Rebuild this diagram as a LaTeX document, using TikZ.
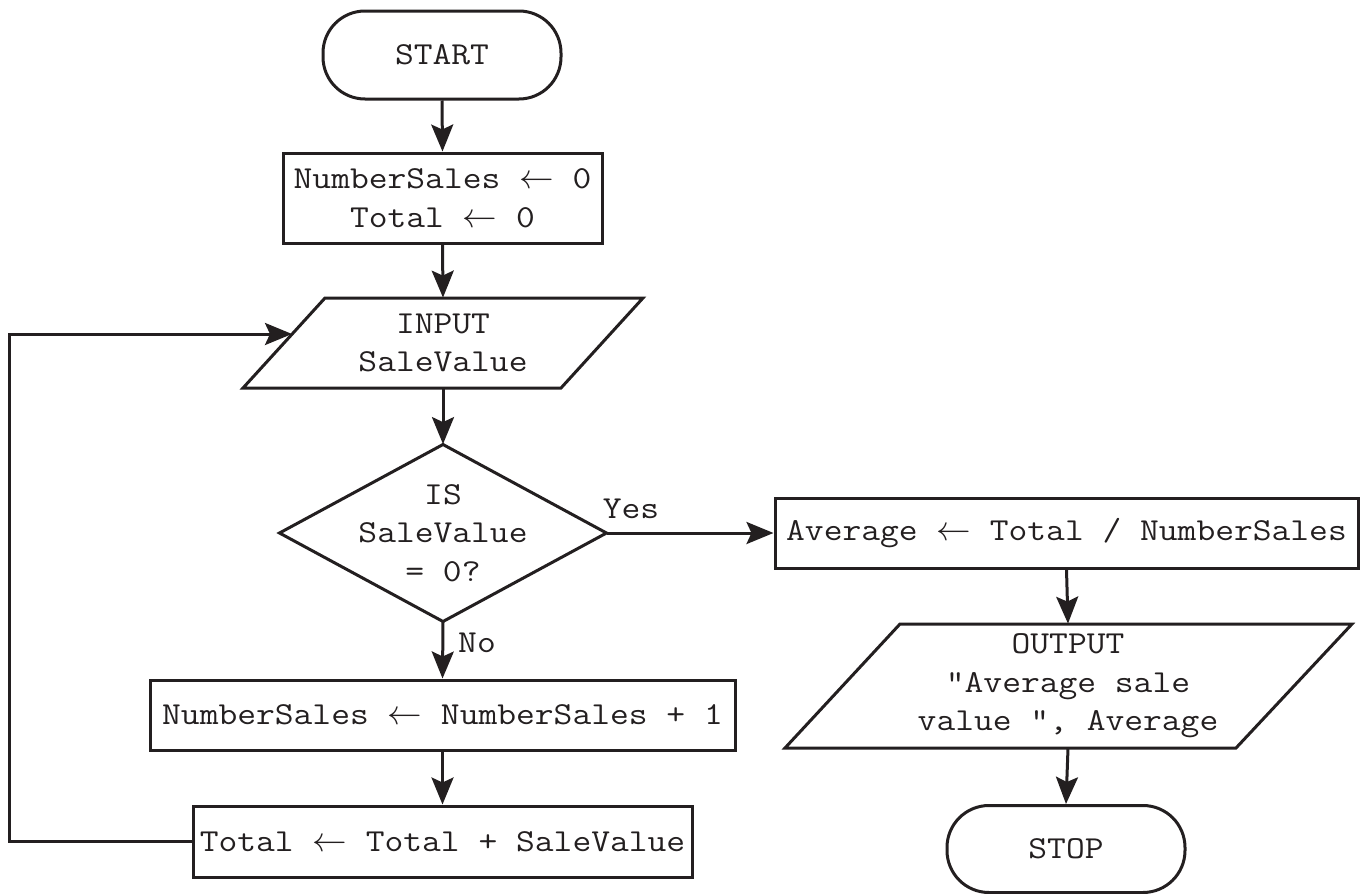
\documentclass[tikz,border=0pt]{standalone}
\usepackage{fontspec}
\newfontfamily\fcmono{Latin Modern Mono}[FakeStretch=1.14]
\usetikzlibrary{arrows.meta,calc}
\definecolor{ink}{RGB}{35,31,32}
\newcommand{\fcfont}{\fontsize{16pt}{19.3pt}\selectfont\fcmono}
\newcommand{\la}{\ensuremath{\leftarrow}}
\begin{document}
\begin{tikzpicture}[x=0.5pt,y=-0.5pt,
  every node/.style={font=\fcfont, text=ink, inner sep=0pt, align=center},
  shp/.style={draw=ink, line width=1.5pt, line join=miter},
  proc/.style={shp, rectangle},
  term/.style={shp, rectangle, rounded corners=21pt},
  ghost/.style={rectangle},
  conn/.style={draw=ink, line width=1.5pt, -{Stealth[length=13.5pt,width=11pt,inset=2.5pt]}},
  lbl/.style={}]
\useasboundingbox (0,0) rectangle (1366,894);

% shapes
\node[term, minimum width=119pt, minimum height=44pt] (start) at (442,55) {START};
\node[proc, minimum width=159.5pt, minimum height=45pt] (init) at (442.5,198) {NumberSales \la{} 0\\Total \la{} 0};

\draw[shp] (325,298) -- (643,298) -- (561,388) -- (243,388) -- cycle;
\node[ghost, minimum width=159pt, minimum height=45pt] (input) at (443,343) {INPUT\\SaleValue};

\draw[shp] (443,444.5) -- (606.5,533) -- (443,621.5) -- (279.5,533) -- cycle;
\node[ghost, minimum width=163.5pt, minimum height=88.5pt] (dia) at (443,533) {};
\node[ghost] (diatext) at (443,533) {IS\\SaleValue\\= 0?};

\node[proc, minimum width=292.5pt, minimum height=35pt] (inc) at (442.5,715) {NumberSales \la{} NumberSales + 1};
\node[proc, minimum width=249.5pt, minimum height=35.5pt] (tot) at (442.5,841.5) {Total \la{} Total + SaleValue};

\node[proc, minimum width=291.5pt, minimum height=35pt] (avg) at (1066.5,533) {Average \la{} Total / NumberSales};

\draw[shp] (900,624) -- (1352,624) -- (1236,748) -- (785,748) -- cycle;
\node[ghost, minimum width=225pt, minimum height=62pt] (out) at (1068,686) {OUTPUT\\"Average sale\\value ", Average};

\node[term, minimum width=119pt, minimum height=43.5pt] (stop) at (1066,849) {STOP};

% labels
\node[lbl] (yes) at (631,509) {Yes};
\node[lbl] (no) at (477,643) {No};

% connectors
\coordinate (loopin) at (292,334);
\coordinate (lc) at (9,334);
\draw[conn] (start.south) -- (init.north);
\draw[conn] (init.south) -- (input.north);
\draw[conn] (input.south) -- (dia.north);
\draw[conn] (dia.east) -- (avg.west);
\draw[conn] (dia.south) -- (inc.north);
\draw[conn] (inc.south) -- (tot.north);
\draw[conn] (tot.west) -| (lc) -- (loopin);
\draw[conn] (avg.south) -- (out.north);
\draw[conn] (out.south) -- (stop.north);
\end{tikzpicture}
\end{document}
